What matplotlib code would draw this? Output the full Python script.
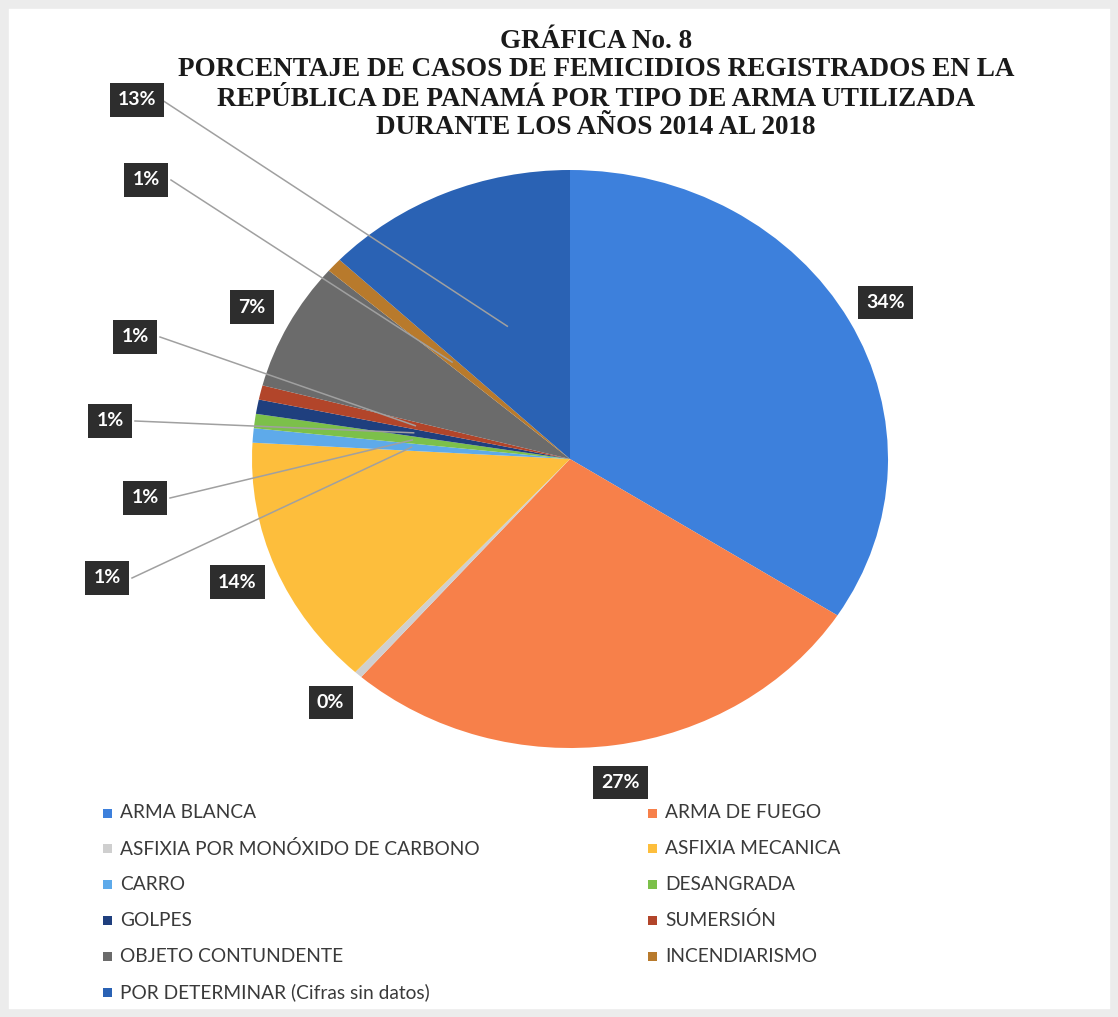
import numpy as np
import matplotlib
matplotlib.use("Agg")
import matplotlib.pyplot as plt
from matplotlib.patches import Rectangle

# datos de la grafica
categorias = ["ARMA BLANCA", "ARMA DE FUEGO", "ASFIXIA POR MONÓXIDO DE CARBONO",
              "ASFIXIA MECANICA", "CARRO", "DESANGRADA", "GOLPES", "SUMERSIÓN",
              "OBJETO CONTUNDENTE", "INCENDIARISMO", "POR DETERMINAR (Cifras sin datos)"]
porcentajes = [34.1, 27.3, 0.4, 14.1, 0.8, 0.8, 0.8, 0.8, 7.2, 0.8, 12.9]
colores = ["#3d80dc", "#f7804a", "#cfcfcf", "#fdbe3c", "#5eaaea", "#7cc04a",
           "#1f3f7e", "#b2452a", "#6b6b6b", "#b87a2c", "#2a62b4"]
titulo = ["GRÁFICA No. 8",
          "PORCENTAJE DE CASOS DE FEMICIDIOS REGISTRADOS EN LA",
          "REPÚBLICA DE PANAMÁ POR TIPO DE ARMA UTILIZADA",
          "DURANTE LOS AÑOS 2014 AL 2018"]

W, H = 1118, 1017
CX, CY, RX, RY = 570, 459, 318, 289   # centro y radios del pastel en pixeles


def px(x, y):
    # pixel -> coordenadas del eje (pastel de radio 1)
    return (x - CX) / RX, (CY - y) / RY


# etiquetas que se mueven fuera de su lugar, con linea guia
movidas = {4: (107, 578), 5: (145, 498), 6: (110, 421), 7: (135, 337),
           9: (146, 180), 10: (137, 100)}

fig = plt.figure(figsize=(W / 100, H / 100), dpi=100)
fig.patch.set_facecolor("white")
ax = fig.add_axes([0, 0, 1, 1])

ax.pie(porcentajes, colors=colores, startangle=90, counterclock=False,
       radius=1, center=(0, 0), wedgeprops=dict(linewidth=0))
ax.set_aspect("auto")
x0, y1 = px(0, 0)
x1, y0 = px(W, H)
ax.set_xlim(x0, x1)
ax.set_ylim(y0, y1)
ax.axis("off")

# etiquetas de datos
acum = np.cumsum([0] + porcentajes)
for i, v in enumerate(porcentajes):
    medio = (acum[i] + acum[i + 1]) / 2
    ang = np.deg2rad(90 - medio * 3.6)
    if i in movidas:
        lx, ly = px(*movidas[i])
        ex, ey = px(movidas[i][0] + 25, movidas[i][1])
        ax.plot([ex, 0.5 * np.cos(ang)], [ey, 0.5 * np.sin(ang)],
                color="#a0a0a0", lw=1.1, zorder=3)
    else:
        lx, ly = 1.13 * np.cos(ang), 1.13 * np.sin(ang)
    ax.text(lx, ly, f"{v:.0f}%", ha="center", va="center", color="white",
            fontsize=14, fontweight="bold", family="Lato", zorder=5,
            bbox=dict(boxstyle="square,pad=0.42", fc="#2d2d2d", ec="none"))

# titulo
for linea, y in zip(titulo, [42, 70, 99, 127]):
    fig.text(596 / W, 1 - y / H, linea, ha="center", va="center",
             family="Liberation Serif", fontweight="bold", fontsize=19.5,
             color="#1a1a1a")

# leyenda en dos columnas, por filas
for i, (nom, col) in enumerate(zip(categorias, colores)):
    fila, c = divmod(i, 2)
    xm = [107, 652][c]
    ym = 813 + fila * 35.8
    fig.add_artist(Rectangle(((xm - 4.5) / W, 1 - (ym + 4.5) / H), 9 / W, 9 / H,
                             transform=fig.transFigure, fc=col, ec="none"))
    fig.text((xm + 13) / W, 1 - ym / H, nom, ha="left", va="center",
             family="Lato", fontsize=13.8, color="#3a3a3a")

# marco gris claro
fig.add_artist(Rectangle((0, 0), 1, 1, transform=fig.transFigure, fill=False,
                         ec="#ececec", lw=12))

fig.savefig("out.png", dpi=100, facecolor="white")
